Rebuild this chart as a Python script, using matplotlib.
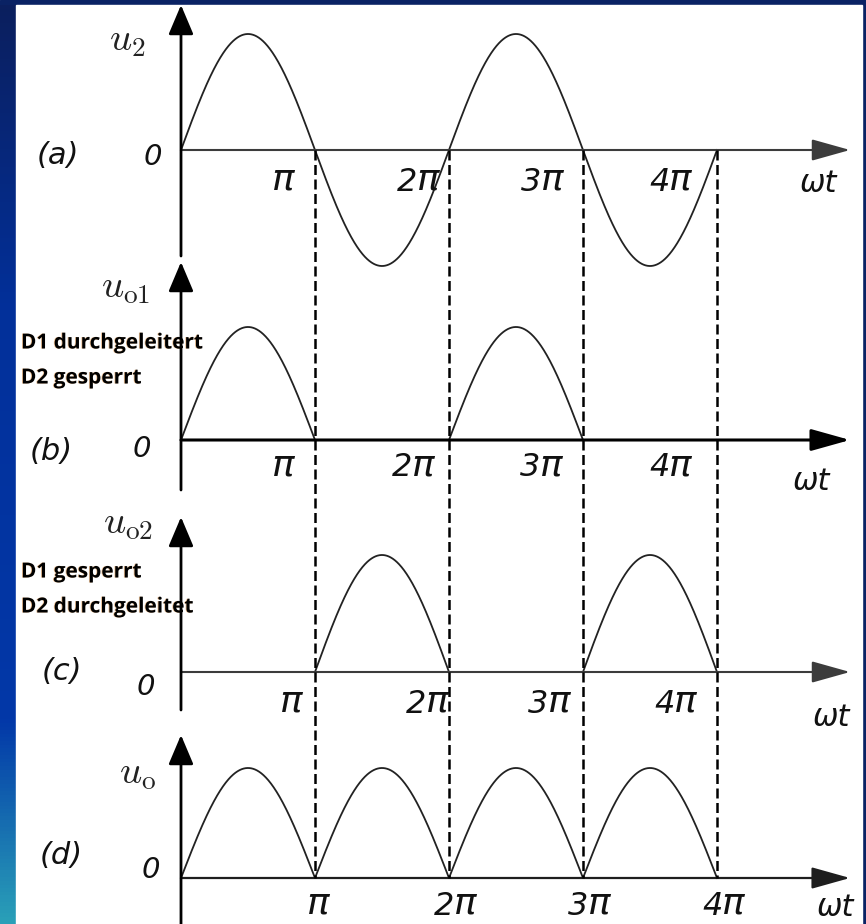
import numpy as np
import matplotlib.pyplot as plt
import matplotlib.patheffects as pe
from matplotlib.transforms import offset_copy
from matplotlib.colors import LinearSegmentedColormap

# switching instants, in multiples of pi
switch_points = [1, 2, 3, 4]
tick_numbers = ['', '2', '3', '4']
panel_ids = ['(a)', '(b)', '(c)', '(d)']
signal_names = [r'$u_2$', r'$u_{\rm o1}$', r'$u_{\rm o2}$', r'$u_{\rm o}$']
diode_notes = {1: ['D1 durchgeleitert', 'D2 gesperrt'],
               2: ['D1 gesperrt', 'D2 durchgeleitet']}

# transformer voltage and the rectified outputs over two periods
wt = np.linspace(0, 4 * np.pi, 2001)
u2 = np.sin(wt)
uo1 = np.where(u2 >= 0, u2, np.nan)
uo2 = np.where(u2 <= 0, -u2, np.nan)
uo = np.abs(u2)
waves = [u2, uo1, uo2, uo]

# layout (pixels)
W, H = 866, 924
x_origin, px_per_pi = 181, 134
base_y = [150, 440, 672, 878]
amp_px = [116, 113, 117, 110]
yaxis_top = [5, 262, 517, 735]
yaxis_bot = [256, 490, 710, 930]
xaxis_tip = 850
axis_color = ['#3c3c3c', 'black', '#3c3c3c', '#1e1e1e']
axis_lw = [1.5, 2.2, 1.5, 1.6]
tick_dx = [[-20, -9, -19, -25], [-20, -14, -20, -25], [-12, 0, -12, -20], [15, 28, 28, 28]]
tick_dy = [48, 43, 48, 44]   # bottom of the label box below the axis
omega_pos = [(818, 184), (811, 482), (831, 717), (835, 907)]
panel_pos = [(58, 155), (51, 452), (62, 672), (61, 855)]
zero_pos = [(153, 157), (142, 449), (146, 687), (151, 870)]
name_pos = [(127, 40), (126, 287), (128, 523), (138, 773)]
note_pos = {1: [(21, 343), (21, 378)], 2: [(21, 572), (21, 607)]}

plt.rcParams['mathtext.fontset'] = 'cm'

fig = plt.figure(figsize=(W / 100, H / 100), dpi=100)

# slide background: blue gradient strip on the left, white sheet
bg = fig.add_axes([0, 0, 1, 1])
bg.set_xlim(0, W)
bg.set_ylim(H, 0)
bg.axis('off')
bg.add_patch(plt.Rectangle((0, 0), W, H, color='#0a2264', zorder=0))
cmap = LinearSegmentedColormap.from_list(
    'strip', [(0, '#0b1f5e'), (0.33, '#02309a'), (0.78, '#0238a8'), (1, '#2aa0b8')])
bg.imshow(np.linspace(0, 1, 256)[:, None], cmap=cmap, aspect='auto',
          extent=(0, 16, H, 5), zorder=1)
bg.add_patch(plt.Rectangle((16, 5), 862 - 16, H - 5, color='white', zorder=2))

ax = fig.add_axes([0, 0, 1, 1])
ax.patch.set_alpha(0)
ax.set_xlim(-x_origin / px_per_pi * np.pi, (W - x_origin) / px_per_pi * np.pi)
ax.set_ylim(H, 0)
ax.axis('off')

tip_x = (xaxis_tip - x_origin) / px_per_pi * np.pi
italic = dict(family='DejaVu Sans', style='italic', color='#111111')

for i in range(4):
    b = base_y[i]
    # waveform
    ax.plot(wt, b - amp_px[i] * waves[i], color='#222222', lw=1.3, zorder=3)
    # horizontal axis with arrow
    ax.annotate('', xy=(tip_x, b), xytext=(0, b),
                arrowprops=dict(arrowstyle='-|>,head_length=1.0,head_width=0.28',
                                mutation_scale=24, lw=axis_lw[i], color=axis_color[i],
                                shrinkA=0, shrinkB=0), zorder=4)
    # vertical axis with arrow
    ax.annotate('', xy=(0, yaxis_top[i]), xytext=(0, yaxis_bot[i]),
                arrowprops=dict(arrowstyle='-|>,head_length=1.3,head_width=0.55',
                                mutation_scale=14, lw=2.0, color='black',
                                shrinkA=0, shrinkB=0), zorder=4)
    # tick labels: a large pi, with the multiple set in front of it
    for k, num, dx in zip(switch_points, tick_numbers, tick_dx[i]):
        tr = offset_copy(ax.transData, fig=fig, x=dx, y=0, units='dots')
        pi_txt = ax.text(k * np.pi, b + tick_dy[i], 'π', ha='right', va='bottom',
                         transform=tr, fontsize=27, **italic)
        if num:
            ax.annotate(num, xy=(0, 0), xycoords=pi_txt, ha='right', va='bottom',
                        fontsize=23, **italic)
    bg.text(*omega_pos[i], 'ωt', ha='center', va='center', zorder=5, fontsize=22, **italic)
    bg.text(*panel_pos[i], panel_ids[i], ha='center', va='center', zorder=5,
            fontsize=22, **italic)
    bg.text(*zero_pos[i], '0', ha='center', va='center', zorder=5, fontsize=21, **italic)
    bg.text(*name_pos[i], signal_names[i], ha='center', va='center',
            fontsize=28, color='#222222', zorder=5)

# conduction state notes
for i, lines in diode_notes.items():
    for (x, y), txt in zip(note_pos[i], lines):
        bg.text(x, y, txt, ha='left', va='center', family='Open Sans',
                fontweight='bold', fontsize=15, color='black', zorder=6,
                path_effects=[pe.SimplePatchShadow(offset=(-0.6, 0),
                                                   shadow_rgbFace='#d9822b', alpha=0.5),
                              pe.Normal()])

# dashed switching lines from u2 down to uo
ax.vlines([k * np.pi for k in switch_points], base_y[0], base_y[3],
          colors='black', lw=1.8, linestyles=(0, (4, 1.8)), zorder=5)

fig.savefig('out.png', dpi=100)
